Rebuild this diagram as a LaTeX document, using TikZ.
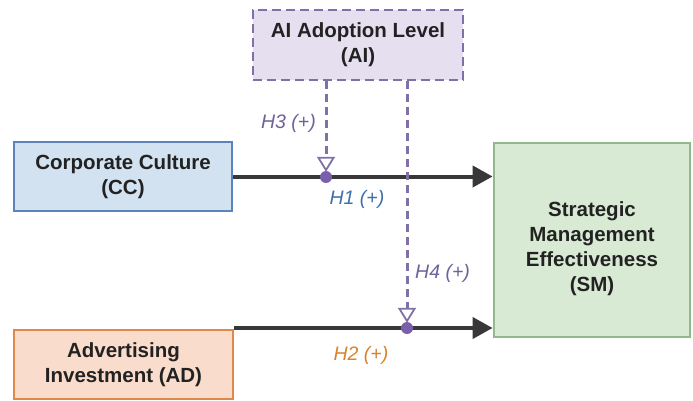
\documentclass[tikz,border=0pt]{standalone}
\usepackage{fontspec}
\setmainfont{Liberation Sans}
\usetikzlibrary{arrows.meta}
\definecolor{ink}{HTML}{222222}
\definecolor{ccfill}{HTML}{D2E2F0}
\definecolor{ccdraw}{HTML}{5B84BC}
\definecolor{adfill}{HTML}{F9DCCB}
\definecolor{addraw}{HTML}{E0874A}
\definecolor{smfill}{HTML}{D8EAD3}
\definecolor{smdraw}{HTML}{92B98C}
\definecolor{aifill}{HTML}{E6DFF0}
\definecolor{aidraw}{HTML}{8070A8}
\definecolor{arrowgray}{HTML}{383838}
\definecolor{hpurple}{HTML}{6F629C}
\definecolor{hblue}{HTML}{3E6FA8}
\definecolor{horange}{HTML}{D9832C}
\definecolor{dotpurple}{HTML}{7A60AA}
\tikzset{
  boxtext/.style={align=center, text=ink, inner sep=0pt,
    font=\bfseries\fontsize{20.5}{25}\selectfont},
  varbox/.style={draw, line width=2.8pt, boxtext},
  effect/.style={draw=arrowgray, line width=4pt,
    -{Triangle[length=20pt,width=21pt]}},
  moderate/.style={draw=aidraw, line width=3pt, dash pattern=on 8pt off 5pt,
    -{Triangle[open,length=15pt,width=18pt,line width=1.8pt,sep=0pt]}},
  hlabel/.style={font=\itshape\fontsize{19.5}{22}\selectfont, inner sep=0pt},
  joint/.style={circle, fill=dotpurple, inner sep=0pt, minimum size=12pt}
}
\begin{document}
\begin{tikzpicture}[x=1pt,y=-1pt]
\useasboundingbox[fill=white] (0,0) rectangle (693,401);

% variables
\node[varbox, fill=ccfill, draw=ccdraw, minimum width=218pt, minimum height=69pt]
  (CC) at (123,176.5) {Corporate Culture\\(CC)};
\node[varbox, fill=adfill, draw=addraw, minimum width=219pt, minimum height=69pt]
  (AD) at (123.5,364.5) {Advertising\\Investment (AD)};
\node[varbox, fill=smfill, draw=smdraw, minimum width=196pt, minimum height=194pt,
  label={[boxtext, yshift=-9pt]center:{Strategic\\Management\\Effectiveness\\(SM)}}]
  (SM) at (592,240) {};
\node[varbox, fill=aifill, draw=aidraw, dash pattern=on 9pt off 5pt,
  minimum width=210pt, minimum height=70pt]
  (AI) at (358,45) {AI Adoption Level\\(AI)};

% points where the moderator meets each path
\coordinate (j1) at (326,177);
\coordinate (j2) at (407,328);

% direct effects
\draw[effect] (CC.east) -- (SM.west |- CC.east);
\draw[effect] (j2 -| AD.east) -- (SM.west |- j2);

\node[joint] (m1) at (j1) {};
\node[joint] (m2) at (j2) {};

% moderating effects
\draw[moderate] (AI.south -| m1) -- ([yshift=-1pt]m1.north);
\draw[moderate] (AI.south -| m2) -- ([yshift=-1pt]m2.north);

% hypothesis labels
\node[hlabel, text=hpurple, anchor=east] (h3) at (316,123) {H3 (+)};
\node[hlabel, text=hblue] (h1) at (357,199) {H1 (+)};
\node[hlabel, text=hpurple, anchor=west] (h4) at (415,273) {H4 (+)};
\node[hlabel, text=horange] (h2) at (361,355) {H2 (+)};
\end{tikzpicture}
\end{document}
